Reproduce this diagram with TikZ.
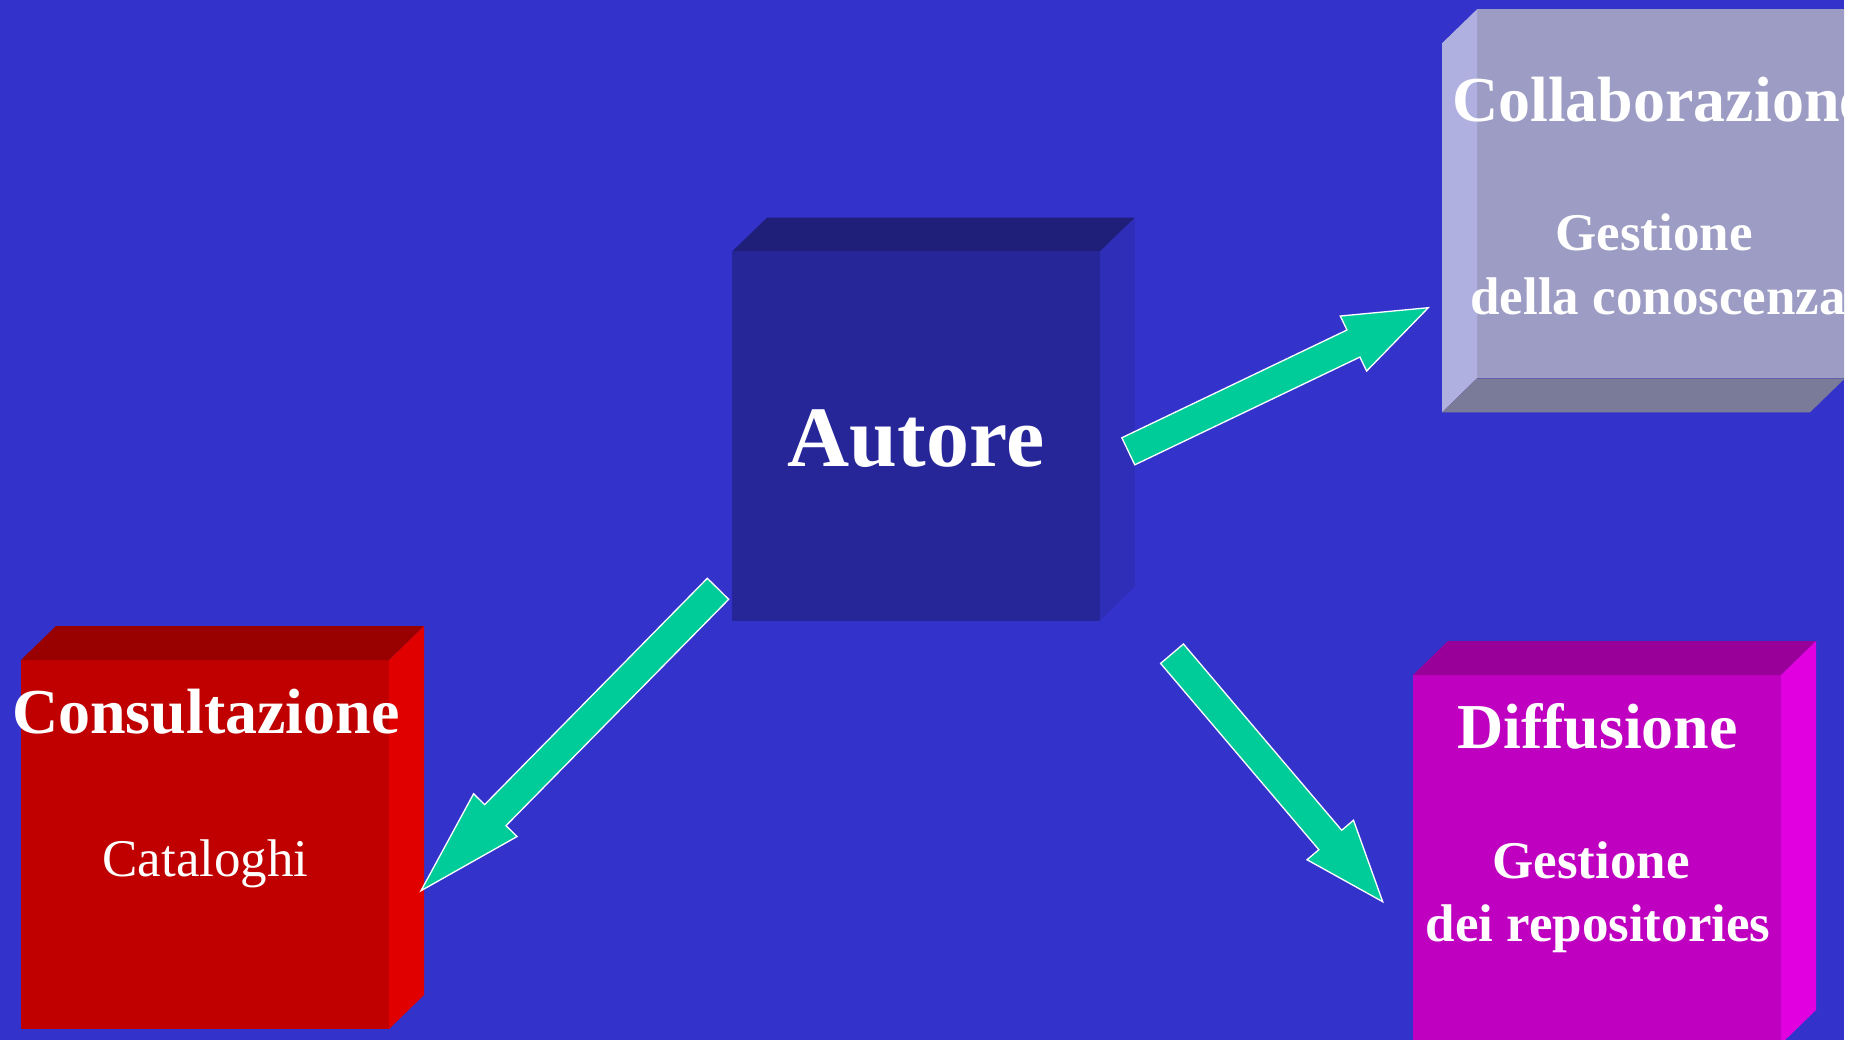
\documentclass[tikz,border=0pt]{standalone}
\usepackage{fontspec}
\setmainfont{Liberation Serif}
\usetikzlibrary{calc}
\definecolor{sfondo}{RGB}{51,51,204}
\definecolor{verdino}{RGB}{0,204,153}
\definecolor{autF}{RGB}{38,38,153}
\definecolor{autT}{RGB}{31,31,122}
\definecolor{autS}{RGB}{46,46,184}
\definecolor{colF}{RGB}{156,156,196}
\definecolor{colS}{RGB}{176,176,224}
\definecolor{colB}{RGB}{122,122,153}
\definecolor{conF}{RGB}{192,0,0}
\definecolor{conT}{RGB}{153,0,0}
\definecolor{conS}{RGB}{224,0,0}
\definecolor{difF}{RGB}{192,0,192}
\definecolor{difT}{RGB}{153,0,153}
\definecolor{difS}{RGB}{224,0,224}
\tikzset{
  faccia/.style={inner sep=0pt,outer sep=0pt,minimum width=368pt,minimum height=369pt},
  titolo/.style={text=white,inner sep=0pt,anchor=base,font=\fontsize{64}{77}\selectfont\bfseries},
  sotto/.style={text=white,inner sep=0pt,anchor=base,font=\fontsize{53}{64}\selectfont\bfseries},
  freccia/.style={fill=verdino,draw=white,line width=1.3pt}
}
% freccia piena: coda, punta, lunghezza della testa
\newcommand{\frecciona}[3]{%
  \coordinate (#1-b) at ($(#2)!#3pt!(#1)$);
  \draw[freccia] ($(#1)!15pt!90:(#2)$) -- ($(#1-b)!15pt!90:(#2)$)
    -- ($(#1-b)!30.5pt!90:(#2)$) -- (#2) -- ($(#1-b)!30.5pt!-90:(#2)$)
    -- ($(#1-b)!15pt!-90:(#2)$) -- ($(#1)!15pt!-90:(#2)$) -- cycle;
}
\begin{document}
\begin{tikzpicture}[x=1pt,y=-1pt]
\useasboundingbox (0,0) rectangle (1865,1040);
\fill[white] (0,0) rectangle (1865,1040);
\clip (0,0) rectangle (1844,1040);
\fill[sfondo] (0,0) rectangle (1844,1040);
%%%% Autore
\node[faccia,fill=autF] (aut) at (915.9,436.2) {};
\fill[autT] (aut.north west) -- ++(35,-34) -- ++(368,0) -- (aut.north east) -- cycle;
\fill[autS] (aut.north east) -- ++(35,-34) -- ++(0,369) -- (aut.south east) -- cycle;
\node[titolo,font=\fontsize{86}{100}\selectfont\bfseries] (tAut) at (916,466.7) {Autore};
%%%% Collaborazione
\node[faccia,fill=colF] (col) at (1661,193.8) {};
\fill[colS] (col.north west) -- ++(-35,34) -- ++(0,369) -- (col.south west) -- cycle;
\fill[colB] (col.south west) -- ++(-35,34) -- ++(368,0) -- (col.south east) -- cycle;
\node[titolo] (tCol) at (1660,121.7) {Collaborazione};
\node[sotto] (sCol1) at (1654,250.7) {Gestione};
\node[sotto] (sCol2) at (1658,315) {della conoscenza};
%%%% Consultazione
\node[faccia,fill=conF] (con) at (205,844.5) {};
\fill[conT] (con.north west) -- ++(35,-34) -- ++(368,0) -- (con.north east) -- cycle;
\fill[conS] (con.north east) -- ++(35,-34) -- ++(0,369) -- (con.south east) -- cycle;
\node[titolo] (tCon) at (206,733) {Consultazione};
\node[sotto,font=\fontsize{53}{64}\selectfont] (sCon) at (205.5,876) {Cataloghi};
%%%% Diffusione
\node[faccia,fill=difF] (dif) at (1597,859.5) {};
\fill[difT] (dif.north west) -- ++(35,-34) -- ++(368,0) -- (dif.north east) -- cycle;
\fill[difS] (dif.north east) -- ++(35,-34) -- ++(0,369) -- (dif.south east) -- cycle;
\node[titolo] (tDif) at (1597.5,748.3) {Diffusione};
\node[sotto] (sDif1) at (1591,878) {Gestione};
\node[sotto] (sDif2) at (1598,941.7) {dei repositories};
%%%% frecce
\coordinate (coda1) at (1128.3,451.3);
\coordinate (punta1) at (1428.3,307.7);
\coordinate (coda2) at (718,588.8);
\coordinate (punta2) at (421,890.7);
\coordinate (coda3) at (1172,653.7);
\coordinate (punta3) at (1382.7,901.7);
\frecciona{coda1}{punta1}{83}
\frecciona{coda2}{punta2}{106}
\frecciona{coda3}{punta3}{81}
\end{tikzpicture}
\end{document}
